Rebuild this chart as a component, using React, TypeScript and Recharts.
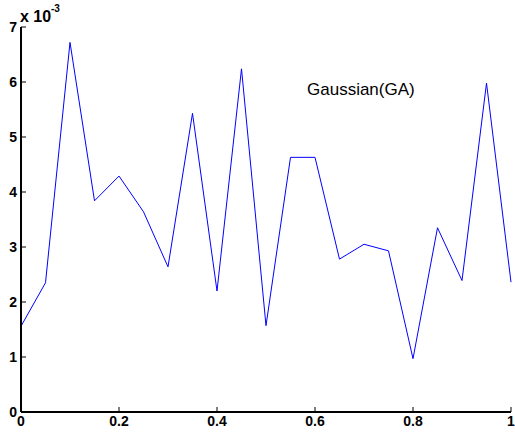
import { LineChart, Line, XAxis, YAxis } from "recharts";

// values are in units of 1e-3
const xs = [0, 0.05, 0.1, 0.15, 0.2, 0.25, 0.3, 0.35, 0.4, 0.45, 0.5, 0.55, 0.6, 0.65, 0.7, 0.75, 0.8, 0.85, 0.9, 0.95, 1];
const gaussian = [1.56, 2.35, 6.72, 3.84, 4.29, 3.64, 2.64, 5.43, 2.2, 6.24, 1.57, 4.63, 4.63, 2.78, 3.05, 2.93, 0.97, 3.35, 2.39, 5.98, 2.36];
const xTicks = [0, 0.2, 0.4, 0.6, 0.8, 1];
const yTicks = [0, 1, 2, 3, 4, 5, 6, 7];

const data = xs.map((x, i) => ({ x, v: gaussian[i] }));

const tickFont = { fontFamily: "Liberation Sans, Arial, sans-serif", fontSize: 14, fontWeight: "bold", fill: "#000" };
const axisLine = { stroke: "#000", strokeWidth: 2 };
const tickLine = { stroke: "#000", strokeWidth: 1 };

export default function App() {
  return (
    <div style={{ position: "absolute", left: 0, top: 0, background: "#fff" }}>
      <LineChart width={515} height={441} data={data} margin={{ top: 27, right: 4, bottom: 0, left: 0 }}>
        <XAxis
          xAxisId="b"
          dataKey="x"
          type="number"
          domain={[0, 1]}
          ticks={xTicks}
          height={29}
          tickSize={-5}
          tickMargin={9}
          axisLine={axisLine}
          tickLine={tickLine}
          tick={tickFont}
          interval={0}
        />
        <XAxis
          xAxisId="t"
          orientation="top"
          dataKey="x"
          type="number"
          domain={[0, 1]}
          ticks={xTicks}
          height={0}
          tickSize={-5}
          axisLine={axisLine}
          tickLine={tickLine}
          tick={false}
        />
        <YAxis
          yAxisId="l"
          type="number"
          domain={[0, 7]}
          ticks={yTicks}
          width={21}
          tickSize={-5}
          tickMargin={9}
          axisLine={axisLine}
          tickLine={tickLine}
          tick={tickFont}
          interval={0}
        />
        <YAxis
          yAxisId="r"
          orientation="right"
          type="number"
          domain={[0, 7]}
          ticks={yTicks}
          width={0}
          tickSize={-5}
          axisLine={axisLine}
          tickLine={tickLine}
          tick={false}
        />
        <Line
          xAxisId="b"
          yAxisId="l"
          dataKey="v"
          type="linear"
          stroke="#0000ff"
          strokeWidth={1}
          dot={false}
          isAnimationActive={false}
        />
        <text x={20} y={22} fontFamily="Liberation Sans, Arial, sans-serif" fontSize={16} fontWeight="bold" fill="#000">
          x 10
        </text>
        <text x={51} y={12} fontFamily="Liberation Sans, Arial, sans-serif" fontSize={10} fontWeight="bold" fill="#000">
          -3
        </text>
        <text x={307} y={95} fontFamily="Liberation Sans, Arial, sans-serif" fontSize={17} fill="#000">
          Gaussian(GA)
        </text>
      </LineChart>
    </div>
  );
}
